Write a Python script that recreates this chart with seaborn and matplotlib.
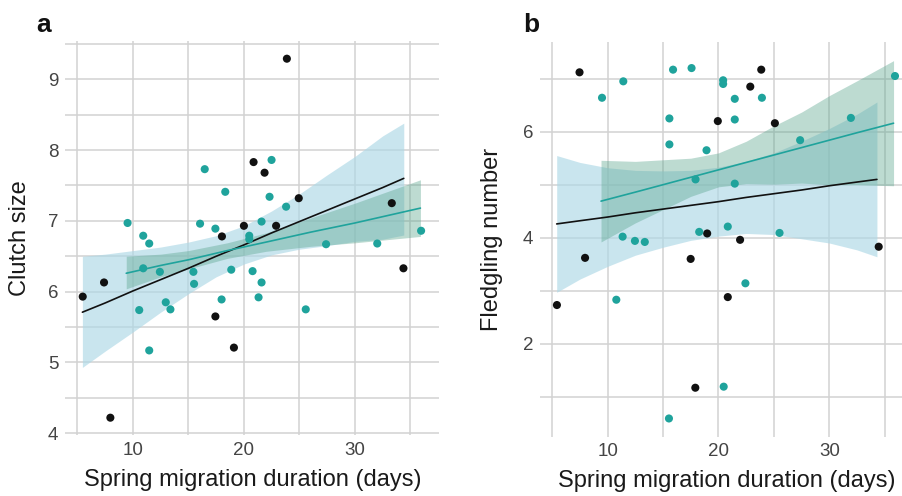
import numpy as np
import pandas as pd
import matplotlib
matplotlib.use("Agg")
import matplotlib.pyplot as plt
import seaborn as sns

# ---------------- data ----------------
# Panel a: clutch size
A_BLACK_X = [23.87, 20.87, 21.86, 24.94, 33.32, 20.00, 22.90, 18.02, 7.40, 5.48, 34.37, 17.43, 19.10, 7.97]
A_BLACK_Y = [9.29, 7.83, 7.68, 7.32, 7.25, 6.93, 6.93, 6.78, 6.13, 5.93, 6.33, 5.65, 5.21, 4.22]
A_TEAL_X = [16.47, 22.49, 18.32, 22.31, 23.80, 9.52, 16.05, 21.59, 17.43, 10.93, 11.47, 20.48, 20.48,
            27.40, 32.01, 35.96, 10.93, 12.43, 15.45, 15.51, 18.86, 20.78, 21.59, 17.99, 21.32, 12.96,
            13.38, 10.57, 25.57, 11.47]
A_TEAL_Y = [7.73, 7.86, 7.41, 7.34, 7.20, 6.97, 6.96, 6.99, 6.89, 6.79, 6.68, 6.79, 6.74,
            6.67, 6.68, 6.86, 6.33, 6.28, 6.28, 6.11, 6.31, 6.29, 6.13, 5.89, 5.92, 5.85,
            5.75, 5.74, 5.75, 5.17]
# fitted lines and confidence bands, panel a
A_BLACK_FIT_X = [5.45, 7.5, 10, 12.5, 15, 17.5, 20, 22.5, 25, 27.5, 30, 32.5, 34.4]
A_BLACK_FIT = [5.71, 5.84, 6.01, 6.17, 6.33, 6.50, 6.66, 6.83, 6.99, 7.15, 7.31, 7.47, 7.60]
A_BLACK_LO = [4.93, 5.16, 5.43, 5.71, 5.97, 6.21, 6.39, 6.52, 6.60, 6.65, 6.71, 6.74, 6.80]
A_BLACK_HI = [6.50, 6.53, 6.58, 6.63, 6.70, 6.79, 6.93, 7.14, 7.38, 7.65, 7.91, 8.20, 8.38]
A_TEAL_FIT_X = [9.4, 12.5, 15, 18.5, 22, 26, 30, 35.9]
A_TEAL_FIT = [6.26, 6.37, 6.45, 6.58, 6.70, 6.84, 6.97, 7.18]
A_TEAL_LO = [6.04, 6.21, 6.32, 6.47, 6.57, 6.64, 6.69, 6.78]
A_TEAL_HI = [6.50, 6.53, 6.58, 6.69, 6.83, 7.04, 7.25, 7.58]

# Panel b: fledgling number
B_BLACK_X = [7.46, 23.86, 22.87, 19.94, 25.09, 18.98, 21.95, 34.46, 7.96, 17.49, 5.42, 20.84, 17.91]
B_BLACK_Y = [7.12, 7.17, 6.85, 6.20, 6.16, 4.08, 3.96, 3.83, 3.62, 3.60, 2.73, 2.88, 1.17]
B_TEAL_X = [11.41, 9.49, 15.90, 17.57, 20.42, 20.42, 21.47, 23.92, 15.57, 21.47, 31.95, 35.93, 15.57,
            18.92, 27.37, 17.93, 21.47, 11.35, 12.46, 13.35, 18.26, 20.84, 25.51, 22.43, 10.78,
            20.47, 15.53]
B_TEAL_Y = [6.95, 6.64, 7.17, 7.20, 6.97, 6.90, 6.62, 6.64, 6.25, 6.23, 6.26, 7.05, 5.76,
            5.65, 5.84, 5.10, 5.02, 4.02, 3.94, 3.92, 4.11, 4.21, 4.09, 3.14, 2.83,
            1.19, 0.59]
B_BLACK_FIT_X = [5.4, 7.5, 10, 12.5, 15, 17.5, 20, 22.5, 25, 27.5, 30, 32.5, 34.3]
B_BLACK_FIT = [4.26, 4.32, 4.39, 4.47, 4.54, 4.61, 4.68, 4.76, 4.83, 4.90, 4.98, 5.05, 5.10]
B_BLACK_LO = [2.97, 3.22, 3.46, 3.67, 3.82, 3.95, 4.03, 4.08, 4.06, 3.98, 3.90, 3.77, 3.64]
B_BLACK_HI = [5.55, 5.42, 5.32, 5.27, 5.26, 5.27, 5.33, 5.44, 5.60, 5.82, 6.06, 6.33, 6.56]
B_TEAL_FIT_X = [9.4, 12.5, 15, 17.5, 20, 22.5, 25, 27.5, 30, 32.5, 35.8]
B_TEAL_FIT = [4.69, 4.86, 5.00, 5.14, 5.28, 5.42, 5.56, 5.70, 5.84, 5.98, 6.16]
B_TEAL_LO = [3.92, 4.28, 4.53, 4.78, 4.96, 5.02, 5.01, 5.03, 5.00, 5.00, 4.98]
B_TEAL_HI = [5.46, 5.44, 5.47, 5.50, 5.60, 5.82, 6.11, 6.37, 6.68, 6.96, 7.34]

X_MAJOR = [10, 20, 30]
X_MINOR = [5, 15, 25, 35]
A_Y_MAJOR = [4, 5, 6, 7, 8, 9]
A_Y_MINOR = [4.5, 5.5, 6.5, 7.5, 8.5, 9.5]
B_Y_MAJOR = [2, 4, 6]
B_Y_MINOR = [1, 3, 5, 7]

X_LABEL = "Spring migration duration (days)"

# ---------------- styling ----------------
sns.set_theme(style="white")
plt.rcParams['font.family'] = ['Liberation Sans', 'DejaVu Sans']

TEAL = "#1fa39c"
BLACK = "#111111"
BLUE_FILL = "#add8e6"
TEAL_FILL = "#5aa58e"
GRID = "#d2d2d2"
TICK_COL = "#444444"

W, H = 903, 496
fig = plt.figure(figsize=(W / 100, H / 100), dpi=100)


def axes_px(l, t, r, b):
    return fig.add_axes([l / W, 1 - b / H, (r - l) / W, (b - t) / H])


ax1 = axes_px(65.4, 41.0, 439.3, 435.4)
ax2 = axes_px(540.3, 42.1, 913.5, 436.5)


def draw_panel(ax, bx, by, tx, ty,
               bfx, bf, blo, bhi, tfx, tf, tlo, thi,
               ymaj, ymin, ylim, ylabel, label_x):
    ax.set_axisbelow(True)
    ax.fill_between(bfx, blo, bhi, color=BLUE_FILL, alpha=0.65, lw=0, zorder=1)
    ax.fill_between(tfx, tlo, thi, color=TEAL_FILL, alpha=0.4, lw=0, zorder=2)
    sns.lineplot(x=bfx, y=bf, color=BLACK, lw=1.2, ax=ax, zorder=3)
    sns.lineplot(x=tfx, y=tf, color=TEAL, lw=1.2, ax=ax, zorder=3)
    sns.scatterplot(x=bx, y=by, color=BLACK, s=34, edgecolor="none", ax=ax, zorder=4)
    sns.scatterplot(x=tx, y=ty, color=TEAL, s=34, edgecolor="none", ax=ax, zorder=4)

    ax.set_xlim(3.92, 37.6)
    ax.set_ylim(*ylim)
    ax.set_xticks(X_MAJOR)
    ax.set_xticks(X_MINOR, minor=True)
    ax.set_yticks(ymaj)
    ax.set_yticks(ymin, minor=True)
    ax.grid(which="both", color=GRID, lw=1.1)
    for s in ax.spines.values():
        s.set_visible(False)
    ax.tick_params(which="both", length=0, labelsize=13.5, labelcolor=TICK_COL, pad=5)
    ax.set_xlabel(X_LABEL, fontsize=17, color="#1a1a1a", labelpad=7)
    ax.set_ylabel(ylabel, fontsize=17, color="#1a1a1a")
    ax.yaxis.set_label_coords(label_x, 0.5)


draw_panel(ax1, A_BLACK_X, A_BLACK_Y, A_TEAL_X, A_TEAL_Y,
           A_BLACK_FIT_X, A_BLACK_FIT, A_BLACK_LO, A_BLACK_HI,
           A_TEAL_FIT_X, A_TEAL_FIT, A_TEAL_LO, A_TEAL_HI,
           A_Y_MAJOR, A_Y_MINOR, (3.97, 9.54), "Clutch size", -0.092)
draw_panel(ax2, B_BLACK_X, B_BLACK_Y, B_TEAL_X, B_TEAL_Y,
           B_BLACK_FIT_X, B_BLACK_FIT, B_BLACK_LO, B_BLACK_HI,
           B_TEAL_FIT_X, B_TEAL_FIT, B_TEAL_LO, B_TEAL_HI,
           B_Y_MAJOR, B_Y_MINOR, (0.25, 7.69), "Fledgling number", -0.100)

fig.text(36 / W, 1 - 32 / H, "a", fontsize=19, fontweight="bold", color="#111111", va="baseline")
fig.text(523 / W, 1 - 32 / H, "b", fontsize=19, fontweight="bold", color="#111111", va="baseline")

fig.savefig("out.png", dpi=100)
